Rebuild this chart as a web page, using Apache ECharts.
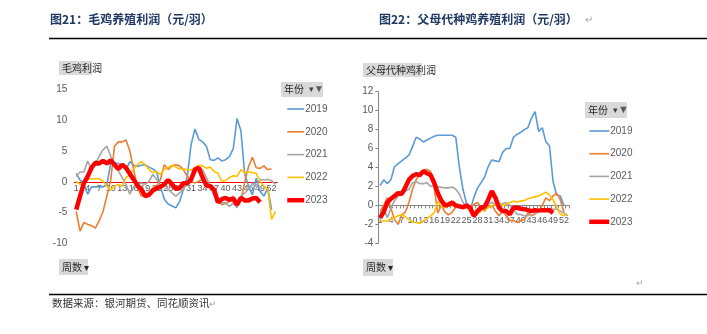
<!DOCTYPE html>
<html><head><meta charset="utf-8">
<script src="https://cdn.jsdelivr.net/npm/echarts@6/dist/echarts.min.js"></script>
<style>html,body{margin:0;padding:0;background:#fff}#c{width:707px;height:334px}</style>
</head><body><div id="c"></div>
<script>
const weeks = ['1','2','3','4','5','6','7','8','9','10','11','12','13','14','15','16','17','18','19','20','21','22','23','24','25','26','27','28','29','30','31','32','33','34','35','36','37','38','39','40','41','42','43','44','45','46','47','48','49','50','51','52','53'];
const years = ['2019','2020','2021','2022','2023'];
const colors = ['#5B9BD5','#ED7D31','#A5A5A5','#FFC000','#FF0000'];

// 图21 毛鸡养殖利润
const broiler2019 = [1.4,0.3,-0.4,-2.0,-0.8,-0.8,-0.8,-0.8,-0.5,3.0,3.1,3.0,2.5,2.0,3.3,2.7,2.5,2.7,2.8,2.4,2.1,1.6,-0.8,-2.8,-3.6,-3.9,-4.2,-3.2,-1.2,0.9,6.1,8.6,6.9,6.5,5.8,3.6,3.5,3.9,3.4,3.6,4.1,5.4,10.3,8.3,1.2,-0.7,-2.1,0.6,-1.5,-2.3,-1.0,-4.5];
const broiler2020 = [-4.8,-8.0,-6.6,-6.9,-7.1,-7.5,-6.3,-4.8,-2.3,0.3,5.8,6.5,6.5,6.8,5.0,2.0,-1.0,-2.3,-2.1,-1.8,-1.0,-0.7,0.4,2.8,2.0,2.6,2.8,2.6,2.0,0.9,0.1,-0.2,0.1,0.4,-0.2,-0.7,-1.8,-3.2,-3.7,-3.5,-3.2,-2.3,-3.5,-3.0,0.0,2.5,4.0,2.3,2.2,2.6,2.0,2.1];
const broiler2021 = [0.9,1.6,1.6,3.4,2.0,2.8,4.2,5.2,5.8,4.2,2.8,1.8,0.7,-0.4,-2.0,-0.8,-0.4,-0.2,-0.4,0.1,1.2,0.4,-0.7,-0.2,-1.2,-1.8,-2.3,-1.8,-1.2,-0.2,0.7,1.5,2.3,2.0,0.7,-0.7,-2.3,-3.2,-3.4,-3.4,-4.0,-3.4,-4.2,-2.3,-1.8,-1.2,-0.2,-0.7,0.4,0.3,0.4,0.2,-0.4];
const broiler2022 = [0.1,-0.4,-0.2,0.4,0.5,0.5,0.5,0.1,-0.7,-1.3,-0.7,-0.4,-0.7,0.7,1.2,2.1,2.8,3.3,2.8,2.0,1.5,1.7,1.2,2.1,2.3,2.7,2.4,2.1,2.1,2.0,1.9,2.3,2.7,2.6,2.2,2.4,1.7,1.4,0.1,0.2,0.7,1.0,0.9,2.0,1.5,1.6,1.5,1.4,0.1,-0.7,-1.2,-6.1,-4.8];
const broiler2023 = [-4.5,-2.3,-0.2,0.9,2.3,3.1,3.0,3.4,3.0,3.5,2.8,2.1,2.8,2.3,1.3,0.4,-0.6,-1.2,-2.3,-2.1,-1.4,-1.0,-0.8,-0.4,0.3,-0.4,-1.1,-1.0,-0.2,-0.2,0.4,2.0,2.3,0.7,-0.6,-0.7,-1.3,-3.3,-2.8,-2.6,-2.9,-2.7,-3.7,-2.6,-3.0,-3.0,-2.7,-2.6,-3.3];

// 图22 父母代种鸡养殖利润
const parent2019 = [2.1,2.7,2.3,2.7,4.1,4.4,4.7,5.0,5.3,6.2,7.2,7.0,6.7,6.9,7.1,7.3,7.4,7.4,7.4,7.4,7.4,7.2,4.0,1.7,0.2,-0.5,0.8,1.8,2.4,3.0,4.1,4.8,4.7,4.6,5.6,6.0,6.0,7.2,7.5,7.7,8.0,8.2,9.2,9.9,7.8,8.2,6.7,6.3,2.5,1.1,1.0,0.0];
const parent2020 = [-0.6,0.0,0.8,-0.3,-1.5,-2.0,-1.0,-0.7,0.3,1.7,2.7,3.3,3.7,3.8,3.6,1.9,-0.8,0.0,-0.7,-1.0,-0.7,-0.2,0.0,-0.2,-0.2,-0.2,0.1,0.3,-0.2,-0.6,-0.1,0.0,-0.6,-1.1,-0.6,-1.1,-1.6,-1.6,-1.8,-1.6,-1.5,-0.8,-1.1,-0.9,-0.6,0.0,0.8,0.5,1.0,1.3,0.6,-0.7];
const parent2021 = [-0.8,-0.3,-1.3,-0.3,0.5,1.0,1.2,1.5,1.7,2.4,2.5,2.3,2.3,2.4,2.0,2.1,2.0,1.9,1.85,1.85,1.95,1.7,1.2,0.3,-0.25,-0.6,-0.8,-0.6,-0.4,-0.1,0.1,0.35,0.1,-0.1,0.2,0.3,0.0,-0.4,-0.95,-0.95,-1.1,-1.1,-0.6,-0.8,-0.6,-0.4,-0.4,-0.3,-0.4,-0.4,-0.6,-0.8,-1.1];
const parent2022 = [-1.65,-1.65,-1.65,-1.4,-1.3,-1.1,-0.95,-1.2,-1.5,-1.75,-1.8,-1.9,-1.65,-1.4,-1.1,-0.8,0.45,-0.1,-0.25,0.0,-0.05,0.0,-0.05,-0.05,-0.2,-0.7,-1.1,-0.95,-0.6,-0.4,-0.25,0.0,0.1,0.3,0.0,0.1,0.3,0.45,0.35,0.45,0.5,0.7,0.8,0.9,1.0,1.2,1.4,1.1,0.6,-0.2,-0.9,-1.1,-0.9];
const parent2023 = [-1.3,-0.7,0.3,0.7,1.0,1.3,1.2,1.9,2.7,3.1,3.3,3.2,3.6,3.4,3.2,2.4,1.3,0.5,0.0,0.1,0.3,0.0,-0.1,-0.2,0.0,-0.25,-1.1,-0.6,-0.25,-0.15,0.6,1.5,0.8,-0.25,-0.6,-0.6,-0.95,-0.25,-0.25,-0.35,-0.4,-0.5,-0.6,-0.5,-0.55,-0.5,-0.5,-0.5,-0.8];

const leftTicks = {min:-10, max:15, interval:5};
const rightTicks = {min:-4, max:12, interval:2};

const broiler = [broiler2019, broiler2020, broiler2021, broiler2022, broiler2023];
const parent = [parent2019, parent2020, parent2021, parent2022, parent2023];

const labelFont = "'Liberation Sans', Arial, sans-serif";
const cjk = "'Noto Sans CJK SC', sans-serif";

// grid geometry
const g0 = {left: 74.3, top: 89.5, width: 203, height: 154};
const g1 = {left: 378.3, top: 91.7, width: 191, height: 151.6};
// move category axis (line, ticks, labels) to the zero value
const off0 = -g0.height * (0 - leftTicks.min) / (leftTicks.max - leftTicks.min);
const off1 = -g1.height * (0 - rightTicks.min) / (rightTicks.max - rightTicks.min);

function mkSeries(arr, idx) {
  return arr.map((d, i) => ({
    name: years[i], type: 'line', xAxisIndex: idx, yAxisIndex: idx,
    data: d, symbol: 'none', smooth: false,
    lineStyle: {color: colors[i], width: i === 4 ? 4.5 : 1.6},
    itemStyle: {color: colors[i]}, z: 2 + i
  }));
}

function box(x, y, w, h, text, extra) {
  return {
    type: 'group', left: x, top: y, children: [
      {type: 'rect', shape: {x: 0, y: 0, width: w, height: h}, style: {fill: '#D9D9D9'}},
      {type: 'text', x: 3, y: h / 2, style: {text: text, fill: '#262626', font: "10px " + cjk, verticalAlign: 'middle'}}
    ].concat(extra || [])
  };
}

function legendCfg(left, top, iw, gap) {
  return {data: years, orient: 'vertical', left: left, top: top, padding: 0,
    itemWidth: iw, itemHeight: 12, itemGap: gap,
    selectedMode: false, lineStyle: {width: 'inherit'}, itemStyle: {opacity: 0},
    textStyle: {color: '#595959', fontSize: 10, fontFamily: labelFont, padding: [0,0,0,-4]}};
}

const chart = echarts.init(document.getElementById('c'), null, {renderer: 'canvas'});
chart.setOption({
  animation: false,
  backgroundColor: '#fff',
  grid: [g0, g1],
  xAxis: [
    {type: 'category', gridIndex: 0, data: weeks, boundaryGap: true, offset: off0,
     axisLine: {onZero: false, lineStyle: {color: '#FF0000', width: 1}},
     axisTick: {show: false},
     axisLabel: {interval: 2, margin: 2, hideOverlap: false, color: '#595959', fontSize: 9, fontFamily: labelFont}},
    {type: 'category', gridIndex: 1, data: weeks, boundaryGap: true, offset: off1,
     axisLine: {onZero: false, lineStyle: {color: '#868686', width: 1}},
     axisTick: {show: true, interval: 0, length: 3, lineStyle: {color: '#868686'}},
     axisLabel: {interval: 2, margin: 11, hideOverlap: false, color: '#595959', fontSize: 9, fontFamily: labelFont}}
  ],
  yAxis: [
    {type: 'value', gridIndex: 0, min: leftTicks.min, max: leftTicks.max, interval: leftTicks.interval,
     axisLine: {show: false}, axisTick: {show: false}, splitLine: {show: false},
     axisLabel: {margin: 7, color: '#595959', fontSize: 10, fontFamily: labelFont}},
    {type: 'value', gridIndex: 1, min: rightTicks.min, max: rightTicks.max, interval: rightTicks.interval,
     axisLine: {show: true, lineStyle: {color: '#868686'}}, axisTick: {show: true, length: 3, lineStyle: {color: '#868686'}},
     splitLine: {show: false},
     axisLabel: {margin: 5, color: '#595959', fontSize: 10, fontFamily: labelFont}}
  ],
  legend: [legendCfg(285, 104, 17, 12.8), legendCfg(587, 126, 20, 12.7)],
  series: mkSeries(broiler, 0).concat(mkSeries(parent, 1)),
  graphic: [
    {type: 'text', left: 50, top: 13, style: {text: '图21：毛鸡养殖利润（元/羽）', fill: '#1F3864', font: "bold 12px " + cjk}},
    {type: 'text', left: 379, top: 13, style: {text: '图22：父母代种鸡养殖利润（元/羽）', fill: '#1F3864', font: "bold 12px " + cjk}},
    {type: 'text', left: 585, top: 14, style: {text: '↵', fill: '#A6A6A6', font: "10px " + cjk}},
    {type: 'line', shape: {x1: 49, y1: 38.5, x2: 707, y2: 38.5}, style: {stroke: '#000', lineWidth: 1.5}},
    {type: 'line', shape: {x1: 49, y1: 294.5, x2: 707, y2: 294.5}, style: {stroke: '#000', lineWidth: 1.5}},
    {type: 'text', left: 52, top: 298, style: {text: '数据来源：银河期货、同花顺资讯', fill: '#333', font: "10.5px " + cjk}},
    {type: 'text', left: 209, top: 299, style: {text: '↵', fill: '#A6A6A6', font: "9px " + cjk}},
    {type: 'text', left: 636, top: 278, style: {text: '↵', fill: '#A6A6A6', font: "9px " + cjk}},
    box(59, 61, 33, 14, '毛鸡利润'),
    box(363, 63, 59, 14, '父母代种鸡利润'),
    box(59, 259, 29, 16, '周数 ▾'),
    box(363, 259, 30, 17, '周数 ▾'),
    box(281, 82, 42, 15, '年份', [
      {type: 'text', x: 28, y: 8, style: {text: '▾', fill: '#404040', font: "9px sans-serif", verticalAlign: 'middle'}},
      {type: 'text', x: 33, y: 7.5, style: {text: '▼', fill: '#595959', font: "10px sans-serif", verticalAlign: 'middle'}}
    ]),
    box(585, 102, 42, 16, '年份', [
      {type: 'text', x: 28, y: 9, style: {text: '▾', fill: '#404040', font: "9px sans-serif", verticalAlign: 'middle'}},
      {type: 'text', x: 33, y: 8, style: {text: '▼', fill: '#595959', font: "11px sans-serif", verticalAlign: 'middle'}}
    ])
  ]
});
</script>
</body></html>
